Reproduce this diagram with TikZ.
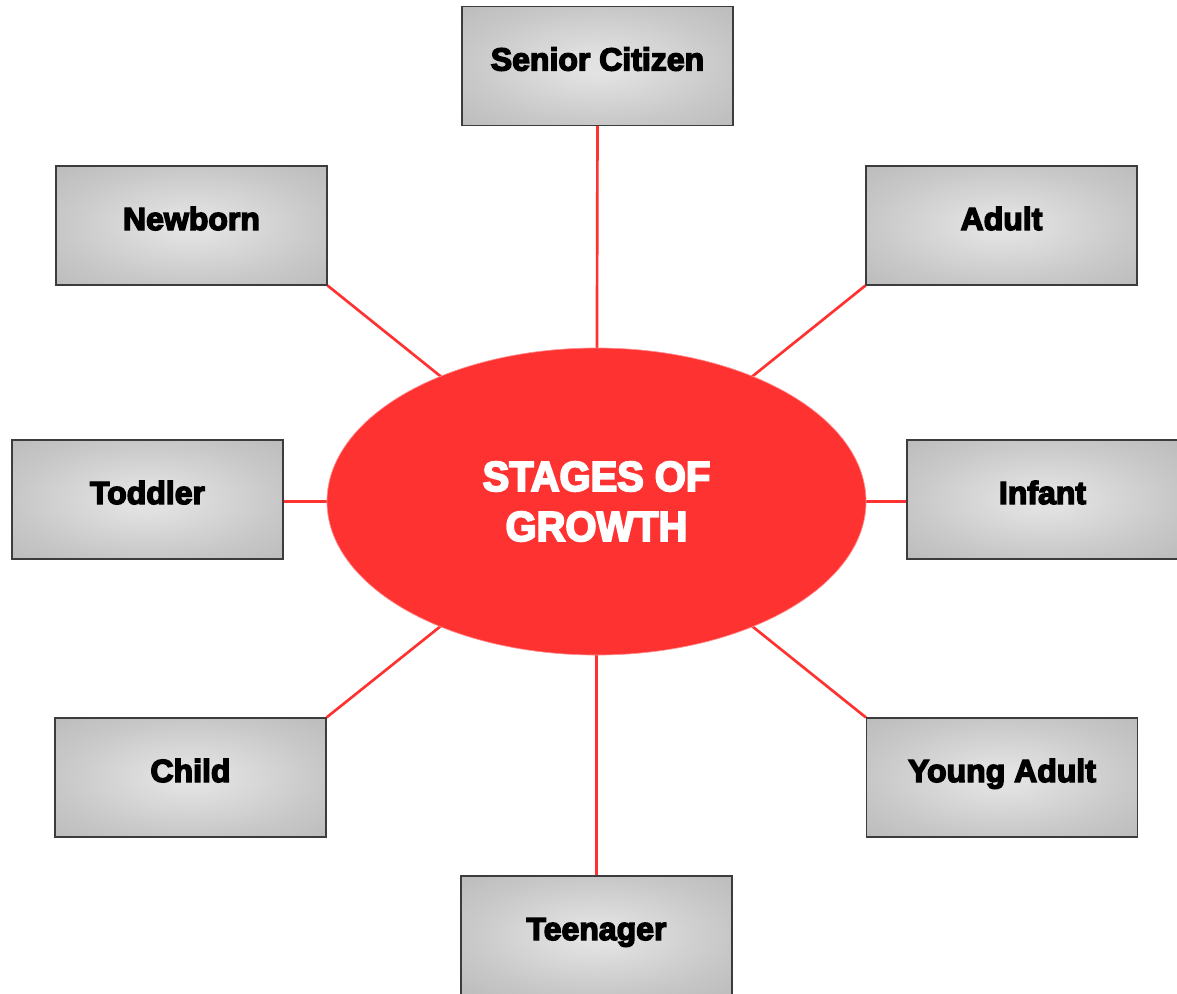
\documentclass[tikz,border=0pt]{standalone}
\usepackage{fontspec}
\setmainfont{Liberation Sans}
\newfontfamily\labelfont{Liberation Sans}[UprightFont={* Bold}, UprightFeatures={FakeBold=4.5}]
\newfontfamily\titlefont{Liberation Sans}[UprightFont={* Bold}, UprightFeatures={FakeBold=4.5,FakeStretch=0.95}]
\usetikzlibrary{shapes.geometric}
\definecolor{stagered}{RGB}{255,50,50}
\definecolor{glowin}{RGB}{226,226,226}
\definecolor{glowmid}{RGB}{200,200,200}
\definecolor{glowout}{RGB}{181,181,181}
\definecolor{boxedge}{RGB}{60,60,60}
\pgfdeclareradialshading{boxglow}{\pgfpoint{0bp}{0bp}}{color(0bp)=(glowin); color(4bp)=(glowin); color(24bp)=(glowmid); color(42bp)=(glowout); color(50bp)=(glowout)}
\tikzset{
  stagebox/.style={draw=boxedge, line width=0.8pt, shading=boxglow, rectangle,
    minimum width=203.25pt, minimum height=89.25pt, inner sep=0pt,
    text height=17.25pt, text depth=10.5pt,
    font=\labelfont\fontsize{24}{28}\selectfont},
  spoke/.style={draw=stagered, line width=2pt},
  hub/.style={ellipse, fill=stagered, draw=stagered!55!white, line width=0.5pt,
    minimum width=404.25pt, minimum height=230.25pt, inner sep=0pt,
    text=white, align=center,
    font=\titlefont\fontsize{31.5}{37.5}\selectfont}
}
\begin{document}
\begin{tikzpicture}[x=0.75pt,y=-0.75pt]
\useasboundingbox (0,0) rectangle (1177,993);
\fill[white] (0,0) rectangle (1177,993);
\node[stagebox] (senior) at (597.5,66) {Senior Citizen};
\node[stagebox] (newborn) at (191.5,225.5) {Newborn};
\node[stagebox] (adult) at (1001.5,225.5) {Adult};
\node[stagebox] (toddler) at (147.5,499.5) {Toddler};
\node[stagebox] (infant) at (1042.5,499.5) {Infant};
\node[stagebox] (child) at (190.5,777.5) {Child};
\node[stagebox] (young) at (1002,777.5) {Young Adult};
\node[stagebox] (teen) at (596.5,935.5) {Teenager};
\coordinate (c) at (596.5,501.5);
\draw[spoke] (senior.south) -- (c);
\draw[spoke] (teen.north) -- (c);
\draw[spoke] (newborn.south east) -- (c);
\draw[spoke] (adult.south west) -- (c);
\draw[spoke] (child.north east) -- (c);
\draw[spoke] (young.north west) -- (c);
\draw[spoke] (c -| toddler.east) -- (c);
\draw[spoke] (c -| infant.west) -- (c);
\node[hub] (hub) at (c) {STAGES OF\\GROWTH};
\end{tikzpicture}
\end{document}
